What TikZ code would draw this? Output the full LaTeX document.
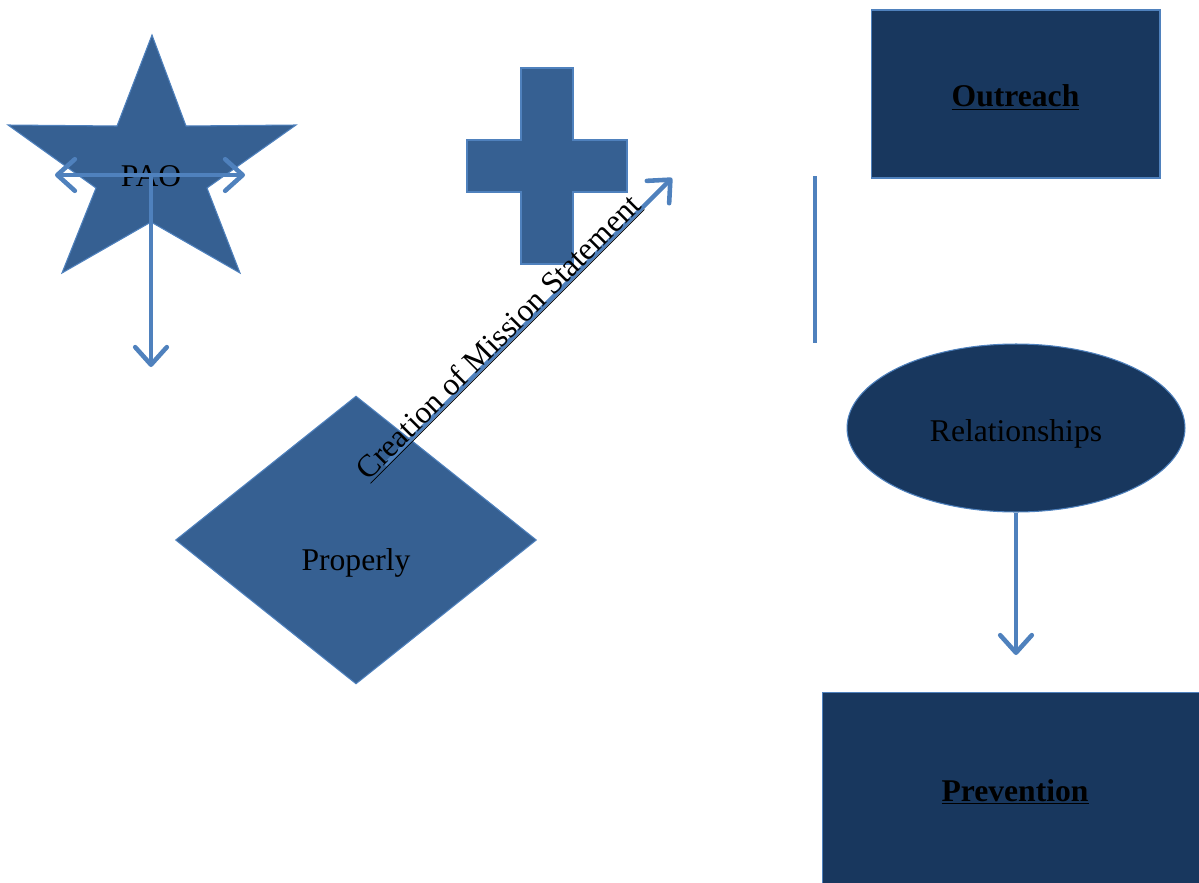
\documentclass[tikz,border=0pt]{standalone}
\usepackage{fontspec}
\setmainfont{Liberation Serif}
\usetikzlibrary{shapes.geometric,arrows.meta,positioning}
\definecolor{shapeblue}{RGB}{54,96,146}
\definecolor{edgeblue}{RGB}{79,129,189}
\definecolor{navy}{RGB}{24,55,94}

\begin{document}
\begin{tikzpicture}[
x=0.02cm, y=-0.02cm,
flatshape/.style={
	fill=shapeblue, draw=edgeblue, line width=0.6pt
},
txt/.style={font=\fontsize{18}{22}\selectfont, text=black},
darkbox/.style={
	rectangle, fill=navy, draw=edgeblue, line width=0.6pt,
	inner sep=0pt, txt, font=\fontsize{18}{22}\selectfont\bfseries
},
barb/.tip={Straight Barb[length=10pt,width=18pt,round]},
link/.style={
	draw=edgeblue, line width=2.6pt, -barb
}
]
\useasboundingbox (0,0) rectangle (1199,882);
% star and cross
\draw[flatshape] (152,35) -- (186,126) -- (296,125) -- (207,188) -- (240,273)
	-- (151,222) -- (62,273) -- (96,188) -- (8,125) -- (117,126) -- cycle;
\draw[flatshape] (521,68) -- (573,68) -- (573,140) -- (627,140) -- (627,192)
	-- (573,192) -- (573,264) -- (521,264) -- (521,192) -- (467,192)
	-- (467,140) -- (521,140) -- cycle;
\node[txt] (pao) at (151,176) {PAO};
\coordinate (paoW) at (55,175);
\coordinate (paoE) at (245,175);
\coordinate (paoS) at (151,367);
\draw[link,barb-barb] (paoW) -- (paoE);
\draw[link] (151,175) -- (paoS);
% diamond
\node[diamond, flatshape, minimum width=7.22cm, minimum height=5.76cm, inner sep=0pt] (properly) at (356,540) {};
\node[txt] (properlytext) at (356,563) {Properly};
\coordinate (missionS) at (385,465);
\coordinate (missionE) at (672,178);
\draw[link] (missionS) -- (missionE)
	node[txt, sloped, pos=0.42, anchor=base] (mission) {\underline{Creation of Mission Statement}};
% right column
\node[darkbox, minimum width=5.78cm, minimum height=3.36cm, text height=17pt] (outreach) at (1015.5,94) {\underline{Outreach}};
\coordinate (barT) at (815,176);
\coordinate (barB) at (815,343);
\draw[edgeblue, line width=2.8pt] (barT) -- (barB);
\node[ellipse, fill=navy, draw=edgeblue, line width=0.6pt, minimum width=6.76cm, minimum height=3.36cm, inner sep=0pt, txt, text height=19pt, text depth=4pt] (relations) at (1016,428) {Relationships};
\coordinate (relS) at (1016,655);
\draw[link] (relations.south) -- (relS);
\node[darkbox, minimum width=7.7cm, minimum height=4cm] (prevention) at (1015,792) {\underline{Prevention}};
\end{tikzpicture}
\end{document}
